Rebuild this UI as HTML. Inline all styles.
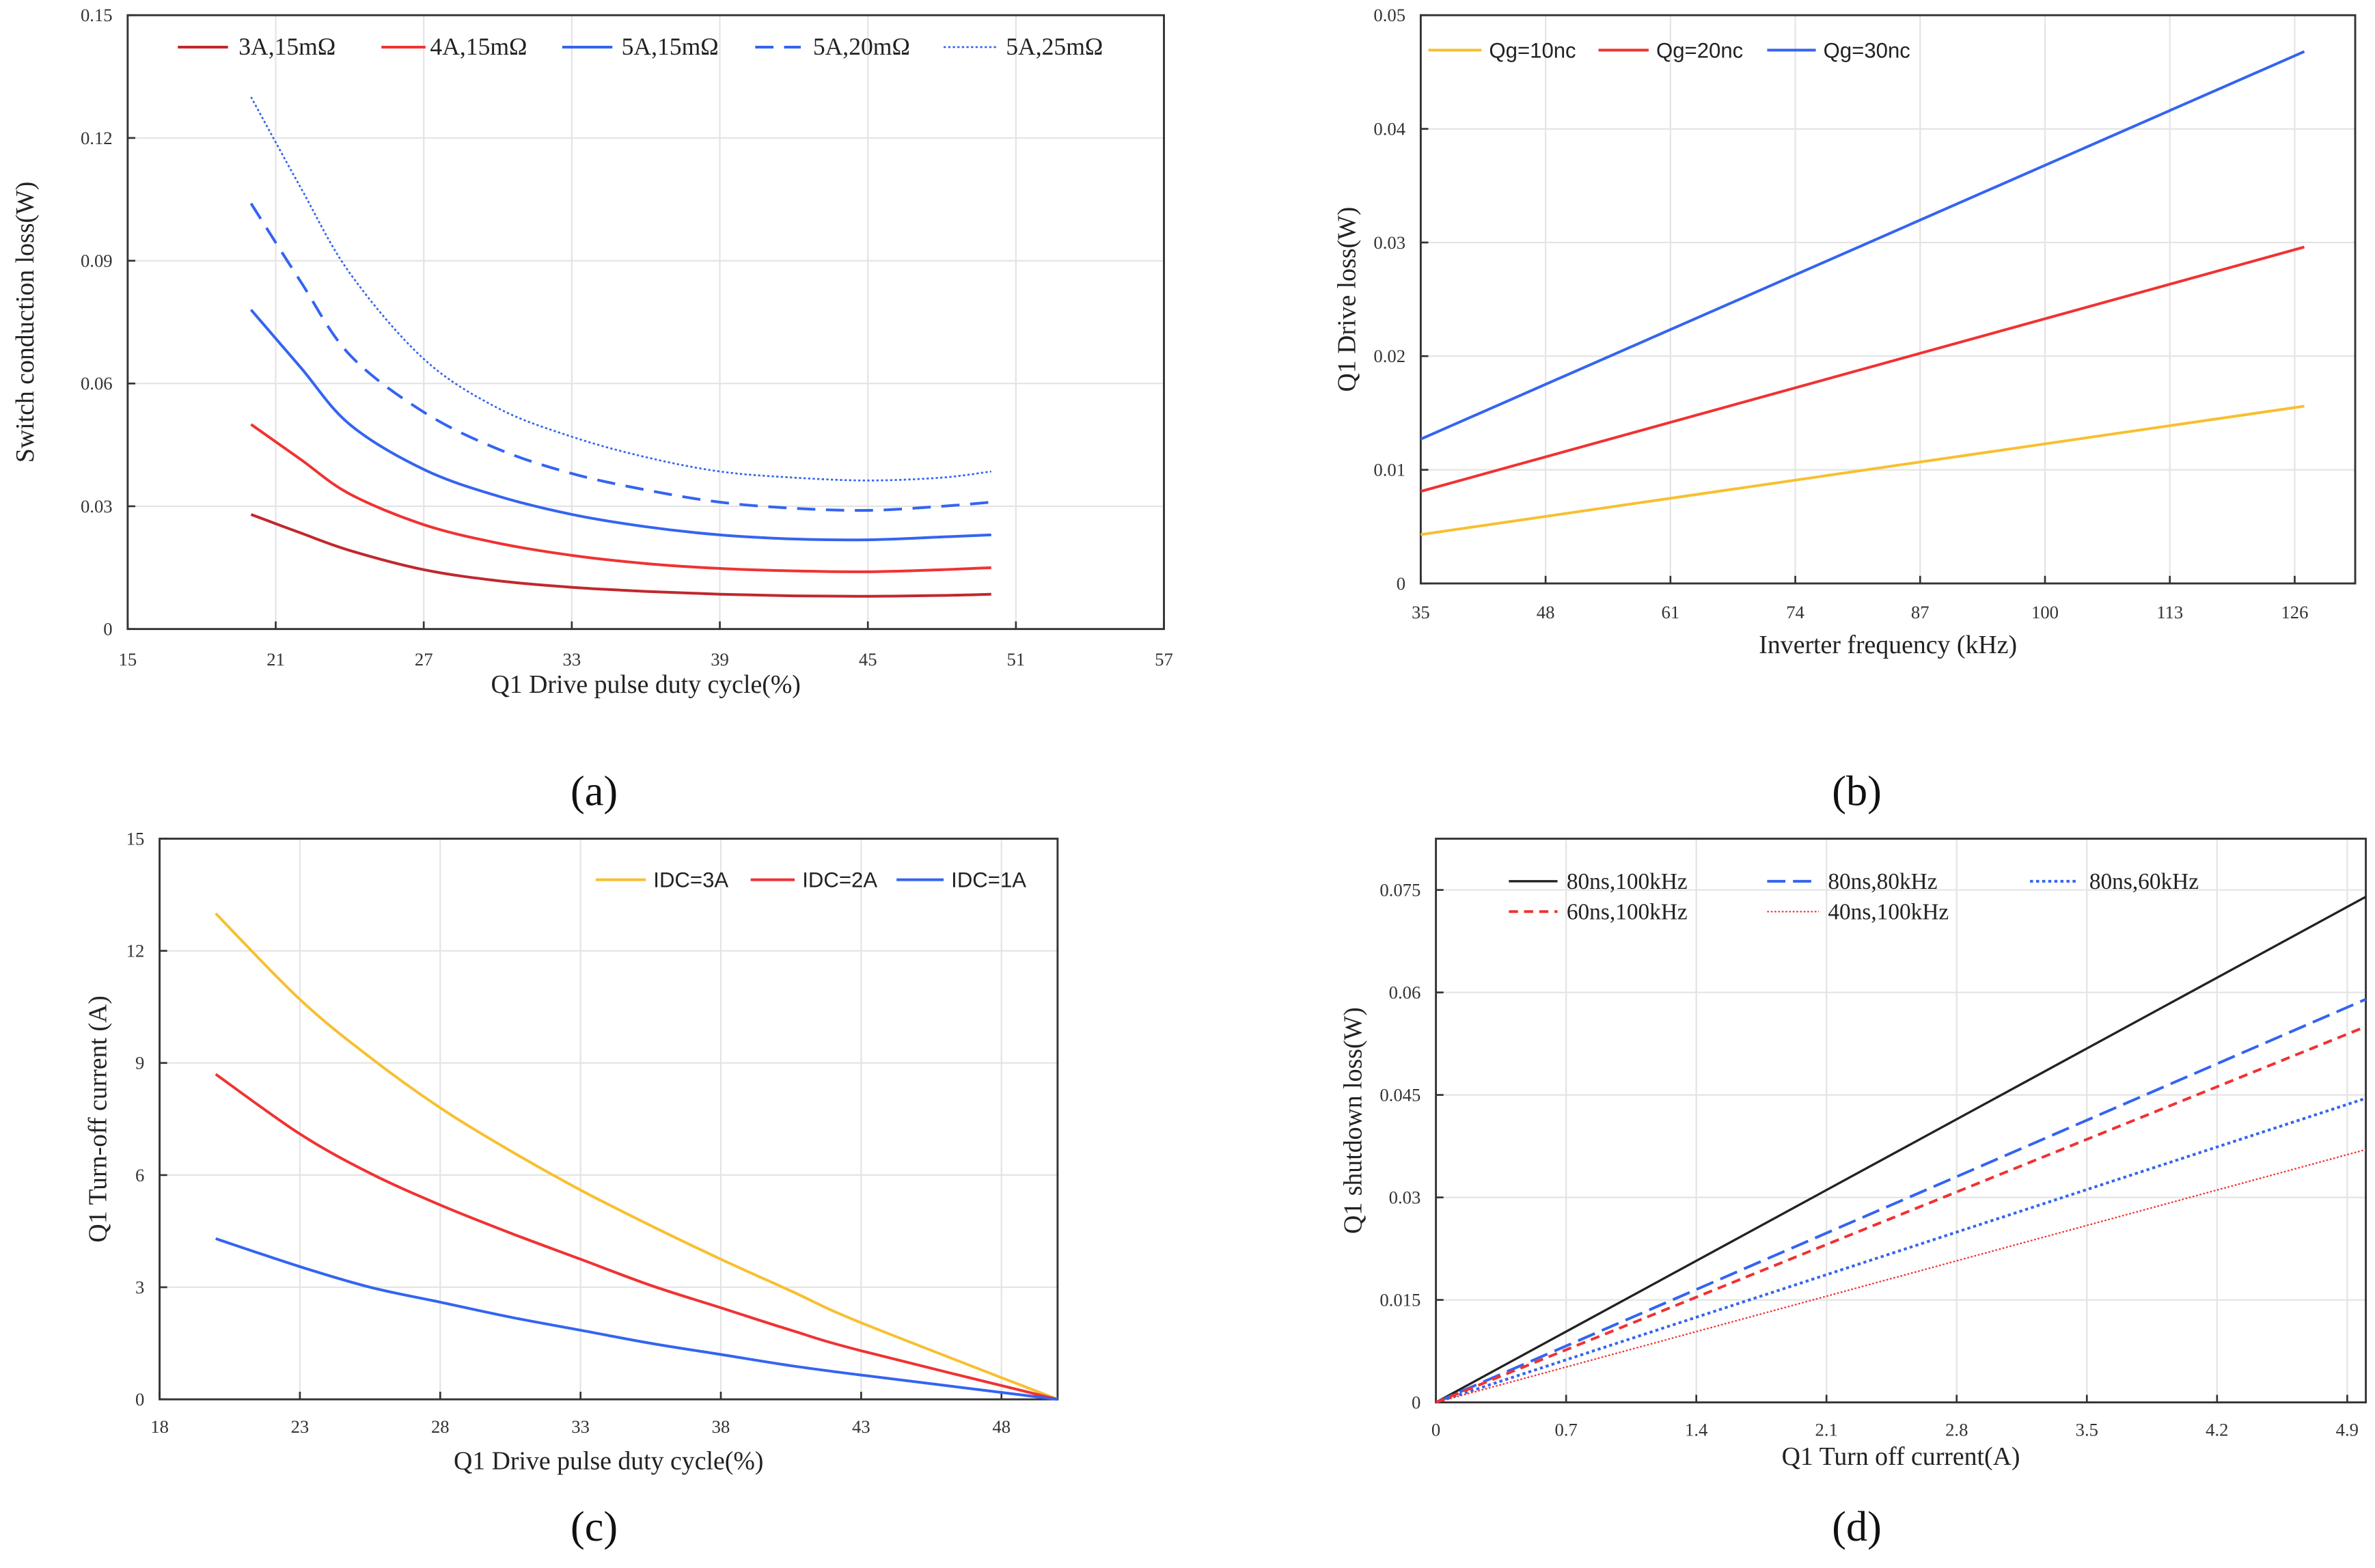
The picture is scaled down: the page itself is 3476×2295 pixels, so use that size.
<!DOCTYPE html>
<html><head><meta charset="utf-8"><style>
html,body{margin:0;padding:0;background:#fff}
svg{display:block}
.serif{font-family:"Liberation Serif",serif}
.sans{font-family:"Liberation Sans",sans-serif}
</style></head><body>
<svg id="fig" width="3476" height="2295" viewBox="0 0 1563 1032" xmlns="http://www.w3.org/2000/svg">
<rect width="1563" height="1032" fill="#fff"/>
</svg>
<script>
// ---- Chart (a) data ----
const aX = [20,22,24,27,30,33,36,39,42,45,48,50];
const a3A15 = [0.028,0.0235,0.0192,0.0145,0.0118,0.0102,0.0092,0.0085,0.0081,0.008,0.0082,0.0085];
const a4A15 = [0.050,0.0415,0.033,0.0255,0.021,0.018,0.016,0.0148,0.0142,0.014,0.0145,0.015];
const a5A15 = [0.078,0.064,0.050,0.039,0.0325,0.028,0.025,0.023,0.022,0.0218,0.0225,0.023];
const a5A20 = [0.104,0.085,0.067,0.053,0.044,0.038,0.034,0.031,0.0295,0.029,0.030,0.031];
const a5A25 = [0.130,0.108,0.087,0.066,0.054,0.047,0.042,0.0385,0.037,0.0363,0.037,0.0385];
const aXTicks = [15,21,27,33,39,45,51,57];
const aYTicks = [0,0.03,0.06,0.09,0.12,0.15];
// ---- Chart (b) data ----
const bX = [35,127];
const bQg10 = [0.0043,0.0156];
const bQg20 = [0.0081,0.0296];
const bQg30 = [0.0127,0.0468];
const bXTicks = [35,48,61,74,87,100,113,126];
const bYTicks = [0,0.01,0.02,0.03,0.04,0.05];
// ---- Chart (c) data ----
const cX = [20,23,25.5,28,30.5,33,35.5,38,40.5,43,50];
const cIDC3 = [13,10.7,9.15,7.8,6.65,5.6,4.65,3.75,2.9,2.05,0];
const cIDC2 = [8.7,7.1,6.05,5.2,4.45,3.75,3.05,2.45,1.85,1.3,0];
const cIDC1 = [4.3,3.55,3.0,2.6,2.2,1.85,1.5,1.2,0.9,0.65,0];
const cXTicks = [18,23,28,33,38,43,48];
const cYTicks = [0,3,6,9,12,15];
// ---- Chart (d) data ----
const dX = [0,5];
const d80_100 = [0,0.074];
const d80_80 = [0,0.059];
const d80_60 = [0,0.0445];
const d60_100 = [0,0.055];
const d40_100 = [0,0.037];
const dXTicks = [0,0.7,1.4,2.1,2.8,3.5,4.2,4.9];
const dYTicks = [0,0.015,0.03,0.045,0.06,0.075];

const NS='http://www.w3.org/2000/svg';
const fig=document.getElementById('fig');
function mk(tag,attrs,parent){const e=document.createElementNS(NS,tag);for(const k in attrs)e.setAttribute(k,attrs[k]);(parent||fig).appendChild(e);return e;}
function txt(s,attrs,parent){const e=mk('text',attrs,parent);e.textContent=s;return e;}
function smooth(pts){
  if(pts.length<3)return 'M'+pts.map(p=>p.join(',')).join('L');
  let d='M'+pts[0][0]+','+pts[0][1];
  for(let i=0;i<pts.length-1;i++){
    const p0=pts[i-1]||pts[i],p1=pts[i],p2=pts[i+1],p3=pts[i+2]||p2;
    const c1=[p1[0]+(p2[0]-p0[0])/6,p1[1]+(p2[1]-p0[1])/6];
    const c2=[p2[0]-(p3[0]-p1[0])/6,p2[1]-(p3[1]-p1[1])/6];
    d+='C'+c1+' '+c2+' '+p2;
  }
  return d;
}
function chart(cfg){
  const g=mk('g',{});
  
  
  const {L,R,T,B,x0,x1,y0,y1}=cfg;
  const sx=v=>L+(v-x0)/(x1-x0)*(R-L);
  const sy=v=>B-(v-y0)/(y1-y0)*(B-T);
  cfg.xTicks.forEach(t=>{const x=sx(t);
    if(x>L+1&&x<R-1){const l=mk('line',{x1:x,x2:x,y1:T,y2:B,stroke:'#e4e4e4','stroke-width':1},g);}
  });
  cfg.yTicks.forEach(t=>{const y=sy(t);
    if(y>T+1&&y<B-1){const l=mk('line',{x1:L,x2:R,y1:y,y2:y,stroke:'#e4e4e4','stroke-width':1},g);}
  });
  const box=mk('rect',{x:L,y:T,width:R-L,height:B-T,fill:'none',stroke:'#333','stroke-width':1.3},g);
  
  cfg.xTicks.forEach(t=>{const x=sx(t);
    mk('line',{x1:x,x2:x,y1:B,y2:B-5,stroke:'#333','stroke-width':1.2},g);
    const e=txt(String(t),{x:x,y:cfg.xTickY,'text-anchor':'middle','font-size':12,fill:'#333',class:'serif'},g);
    
  });
  cfg.yTicks.forEach(t=>{const y=sy(t);
    mk('line',{x1:L,x2:L+5,y1:y,y2:y,stroke:'#333','stroke-width':1.2},g);
    const e=txt(String(t),{x:L-10,y:y+4,'text-anchor':'end','font-size':12,fill:'#333',class:'serif'},g);
    
  });
  const xt=txt(cfg.xTitle,{x:(L+R)/2,y:cfg.xTitleY,'text-anchor':'middle','font-size':17,fill:'#222',class:'serif'},g);
  
  const yt=txt(cfg.yTitle,{x:0,y:0,'text-anchor':'middle','font-size':17,fill:'#222',class:'serif',transform:`translate(${cfg.yTitleX},${(T+B)/2}) rotate(-90)`},g);
  
  cfg.series.forEach(s=>{
    const pts=s.x.map((v,i)=>[sx(v),sy(s.y[i])]);
    const p=mk('path',{d:smooth(pts),fill:'none',stroke:s.color,'stroke-width':s.w||1.8},g);
    if(s.dash)p.setAttribute('stroke-dasharray',s.dash);
    
    
    const lg=mk('g',{},g);
    
    
    const ll=mk('line',{x1:s.lx1,x2:s.lx2,y1:s.ly,y2:s.ly,stroke:s.color,'stroke-width':s.w||1.8},lg);
    if(s.dash)ll.setAttribute('stroke-dasharray',s.dash);
    txt(s.label,{x:s.tx,y:s.ly+5,'font-size':cfg.legSize||15,fill:'#222',class:cfg.legClass||'serif'},lg);
  });
  const sub=txt(cfg.sub,{x:cfg.subX,y:cfg.subY,'text-anchor':'middle','font-size':28,fill:'#111',class:'serif'});
  
}
const dark='#c0282d',red='#f03232',blue='#3464f0',yel='#f7c030',blk='#222';
chart({name:'chart-a',L:84,R:766,T:10,B:414,x0:15,x1:57,y0:0,y1:0.15,xTicks:aXTicks,yTicks:aYTicks,xTickY:438,xTitle:'Q1 Drive pulse duty cycle(%)',xTitleY:456,yTitle:'Switch conduction loss(W)',yTitleX:22,sub:'(a)',subX:391,subY:530,legSize:16,
 series:[
 {key:'3a-15mohm',x:aX,y:a3A15,color:dark,label:'3A,15mΩ',lx1:117,lx2:150,tx:157,ly:31},
 {key:'4a-15mohm',x:aX,y:a4A15,color:red,label:'4A,15mΩ',lx1:251,lx2:280,tx:283,ly:31},
 {key:'5a-15mohm',x:aX,y:a5A15,color:blue,label:'5A,15mΩ',lx1:370,lx2:403,tx:409,ly:31},
 {key:'5a-20mohm',x:aX,y:a5A20,color:blue,dash:'12,7',label:'5A,20mΩ',lx1:497,lx2:527,tx:535,ly:31},
 {key:'5a-25mohm',x:aX,y:a5A25,color:blue,dash:'1.5,1.5',w:1.2,label:'5A,25mΩ',lx1:621,lx2:656,tx:662,ly:31}]});
chart({name:'chart-b',L:935,R:1550,T:10,B:384,x0:35,x1:132.3,y0:0,y1:0.05,xTicks:bXTicks,yTicks:bYTicks,xTickY:407,xTitle:'Inverter frequency (kHz)',xTitleY:430,yTitle:'Q1 Drive loss(W)',yTitleX:892,sub:'(b)',subX:1222,subY:530,legClass:'sans',legSize:14,
 series:[
 {key:'qg-10nc',x:bX,y:bQg10,color:yel,label:'Qg=10nc',lx1:940,lx2:975,tx:980,ly:33},
 {key:'qg-20nc',x:bX,y:bQg20,color:red,label:'Qg=20nc',lx1:1052,lx2:1085,tx:1090,ly:33},
 {key:'qg-30nc',x:bX,y:bQg30,color:blue,label:'Qg=30nc',lx1:1163,lx2:1195,tx:1200,ly:33}]});
chart({name:'chart-c',L:105,R:696,T:552,B:921,x0:18,x1:50,y0:0,y1:15,xTicks:cXTicks,yTicks:cYTicks,xTickY:943,xTitle:'Q1 Drive pulse duty cycle(%)',xTitleY:967,yTitle:'Q1 Turn-off current  (A)',yTitleX:70,sub:'(c)',subX:391,subY:1014,legClass:'sans',legSize:14,
 series:[
 {key:'idc-3a',x:cX,y:cIDC3,color:yel,label:'IDC=3A',lx1:392,lx2:425,tx:430,ly:579},
 {key:'idc-2a',x:cX,y:cIDC2,color:red,label:'IDC=2A',lx1:494,lx2:523,tx:528,ly:579},
 {key:'idc-1a',x:cX,y:cIDC1,color:blue,label:'IDC=1A',lx1:590,lx2:621,tx:626,ly:579}]});
chart({name:'chart-d',L:945,R:1557,T:552,B:923,x0:0,x1:5,y0:0,y1:0.0825,xTicks:dXTicks,yTicks:dYTicks,xTickY:945,xTitle:'Q1 Turn off  current(A)',xTitleY:964,yTitle:'Q1 shutdown loss(W)',yTitleX:896,sub:'(d)',subX:1222,subY:1014,legSize:15,
 series:[
 {key:'80ns-100khz',x:dX,y:d80_100,color:blk,w:1.5,label:'80ns,100kHz',lx1:993,lx2:1025,tx:1031,ly:580},
 {key:'80ns-80khz',x:dX,y:d80_80,color:blue,dash:'12,5',label:'80ns,80kHz',lx1:1163,lx2:1197,tx:1203,ly:580},
 {key:'80ns-60khz',x:dX,y:d80_60,color:blue,dash:'2,2',label:'80ns,60kHz',lx1:1336,lx2:1368,tx:1375,ly:580},
 {key:'60ns-100khz',x:dX,y:d60_100,color:red,dash:'6,4',label:'60ns,100kHz',lx1:993,lx2:1025,tx:1031,ly:600},
 {key:'40ns-100khz',x:dX,y:d40_100,color:red,dash:'1.2,1.2',w:1,label:'40ns,100kHz',lx1:1163,lx2:1197,tx:1203,ly:600}]});
</script>
</body></html>
